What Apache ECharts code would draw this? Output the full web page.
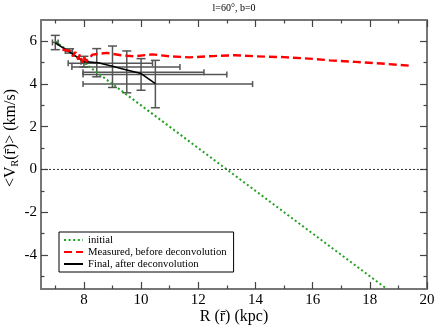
<!DOCTYPE html>
<html><head><meta charset="utf-8">
<script src="https://cdn.jsdelivr.net/npm/echarts@6/dist/echarts.min.js"></script>
<style>html,body{margin:0;padding:0;background:#fff}#c{width:436px;height:326px}</style>
</head><body><div id="c"></div>
<script>
// ---- tick values ----
const xMajorTicks = [8, 10, 12, 14, 16, 18, 20];
const xMinorTicks = [7, 9, 11, 13, 15, 17, 19];
const yMajorTicks = [-4, -2, 0, 2, 4, 6];
const yMinorTicks = [-5, -3, -1, 1, 3, 5];

// ---- series: initial (green dotted) ----
const initialR = [7.0, 18.6];
const initialV = [6.0, -5.6];

// ---- series: measured, before deconvolution (red dashed) ----
const measuredR = [7.25, 7.5, 7.62, 7.7, 7.8, 7.86, 7.95, 8.0, 8.08, 8.3, 8.8, 9.3, 9.75, 10.4, 11.0, 11.7, 12.5, 13.3, 14.0, 15.0, 16.0, 16.6, 17.5, 18.4, 19.5];
const measuredV = [5.62, 5.55, 5.3, 5.5, 5.15, 5.4, 5.0, 5.3, 5.05, 5.38, 5.46, 5.35, 5.3, 5.39, 5.3, 5.25, 5.31, 5.35, 5.3, 5.26, 5.18, 5.11, 5.04, 4.96, 4.85];

// ---- series: final, after deconvolution (black) ----
const finalR = [7.0, 7.5, 8.0, 8.5, 9.0, 9.5, 10.0, 10.5];
const finalV = [5.93, 5.5, 5.05, 5.0, 4.83, 4.66, 4.49, 4.02];

// ---- error bars ----
const errR   = [7.0, 7.5, 8.0, 8.45, 9.0, 9.5, 10.0, 10.5];
const errV   = [5.95, 5.55, 5.05, 4.98, 4.8, 4.55, 4.45, 4.0];
const errRLo = [6.9, 7.35, 7.9, 7.45, 7.58, 7.97, 7.97, 7.97];
const errRHi = [7.1, 7.6, 8.1, 10.4, 11.36, 12.2, 13.0, 13.9];
const errVLo = [5.61, 5.45, 4.8, 4.34, 3.84, 3.59, 3.71, 2.89];
const errVHi = [6.28, 5.65, 5.3, 5.66, 5.78, 5.55, 5.19, 5.11];

const zeroR = [6.5, 20];
const zeroV = [0, 0];

const FONT = 'Liberation Serif';
const zip = (a, b) => a.map((v, i) => [v, b[i]]);
const errData = errR.map((r, i) => [r, errV[i], errRLo[i], errRHi[i], errVLo[i], errVHi[i]]);

function mkAxis(isX, gridIndex, position, tickVals, len, showLabel, showLine) {
  return {
    type: 'value', gridIndex: gridIndex, position: position,
    min: isX ? 6.5 : -5.6, max: isX ? 20 : 7,
    axisLine: {show: showLine, onZero: false, lineStyle: {color: '#777', width: 2}},
    axisTick: {show: true, inside: true, length: len, customValues: tickVals,
      lineStyle: {color: '#444', width: 1.2}},
    axisLabel: {show: showLabel, customValues: tickVals, color: '#000',
      fontFamily: FONT, fontSize: 15, margin: 4},
    splitLine: {show: false}, minorTick: {show: false}, minorSplitLine: {show: false},
    axisPointer: {show: false}
  };
}

const gridBox = {left: 41, right: 9, top: 20, bottom: 37, outerBoundsMode: 'none', containLabel: false};

const chart = echarts.init(document.getElementById('c'), null, {renderer: 'canvas'});
chart.setOption({
  animation: false,
  backgroundColor: '#fff',
  grid: [Object.assign({}, gridBox), Object.assign({}, gridBox)],
  xAxis: [
    mkAxis(true, 0, 'bottom', xMajorTicks, 7, true, true),
    mkAxis(true, 0, 'top', xMajorTicks, 7, false, true),
    mkAxis(true, 1, 'bottom', xMinorTicks, 3.5, false, false),
    mkAxis(true, 1, 'top', xMinorTicks, 3.5, false, false)
  ],
  yAxis: [
    mkAxis(false, 0, 'left', yMajorTicks, 7, true, true),
    mkAxis(false, 0, 'right', yMajorTicks, 7, false, true),
    mkAxis(false, 1, 'left', yMinorTicks, 3.5, false, false),
    mkAxis(false, 1, 'right', yMinorTicks, 3.5, false, false)
  ],
  legend: {
    data: ['initial', 'Measured, before deconvolution', 'Final, after deconvolution'],
    orient: 'vertical', left: 59, top: 232, padding: [2, 7, 2, 4],
    itemGap: 0, itemWidth: 19, itemHeight: 8,
    borderColor: '#000', borderWidth: 1, borderRadius: 0, backgroundColor: '#fff',
    selectedMode: false,
    itemStyle: {opacity: 0, borderWidth: 0},
    textStyle: {fontFamily: FONT, fontSize: 10.7, color: '#000', lineHeight: 12}
  },
  graphic: [
    {type: 'text', x: 234, y: 8, style: {text: 'l=60°, b=0', fontFamily: FONT, fontSize: 10,
      fill: '#000', align: 'center', verticalAlign: 'middle'}},
    {type: 'text', x: 234, y: 317, style: {text: 'R (r\u0304) (kpc)', fontFamily: FONT, fontSize: 16,
      fill: '#000', align: 'center', verticalAlign: 'middle'}},
    {type: 'text', x: 11, y: 138, rotation: Math.PI / 2,
      style: {text: '<V{s|R}(r\u0304)> (km/s)', fontFamily: FONT, fontSize: 16, fill: '#000',
        align: 'center', verticalAlign: 'middle',
        rich: {s: {fontFamily: FONT, fontSize: 10, lineHeight: 10, padding: [8, 0, 0, 0], fill: '#000'}}}}
  ],
  series: [
    {type: 'line', name: 'zero', data: zip(zeroR, zeroV), xAxisIndex: 0, yAxisIndex: 0,
      symbol: 'none', silent: true, lineStyle: {color: '#333', width: 1, type: [2, 2]}},
    {type: 'line', name: 'initial', data: zip(initialR, initialV), xAxisIndex: 0, yAxisIndex: 0,
      symbol: 'none', color: '#22a022', lineStyle: {color: '#22a022', width: 2, type: [2, 2.6]}},
    {type: 'custom', name: 'err', data: errData, xAxisIndex: 0, yAxisIndex: 0, clip: true,
      encode: {x: [0, 2, 3], y: [1, 4, 5]},
      renderItem: function (params, api) {
        const x = api.value(0), y = api.value(1);
        const xl = api.value(2), xh = api.value(3), yl = api.value(4), yh = api.value(5);
        const vLo = api.coord([x, yl]), vHi = api.coord([x, yh]);
        const hLo = api.coord([xl, y]), hHi = api.coord([xh, y]);
        const st = {stroke: '#555', lineWidth: 1.5, fill: null};
        const L = (x1, y1, x2, y2) => ({type: 'line', shape: {x1, y1, x2, y2}, style: st});
        const c = 4.5, ch = 3;
        return {type: 'group', children: [
          L(vLo[0], vLo[1], vHi[0], vHi[1]),
          L(vLo[0] - c, vLo[1], vLo[0] + c, vLo[1]),
          L(vHi[0] - c, vHi[1], vHi[0] + c, vHi[1]),
          L(hLo[0], hLo[1], hHi[0], hHi[1]),
          L(hLo[0], hLo[1] - ch, hLo[0], hLo[1] + ch),
          L(hHi[0], hHi[1] - ch, hHi[0], hHi[1] + ch)
        ]};
      }},
    {type: 'line', name: 'Final, after deconvolution', data: zip(finalR, finalV), xAxisIndex: 0, yAxisIndex: 0,
      symbol: 'none', color: '#000', lineStyle: {color: '#000', width: 1.6}},
    {type: 'line', name: 'Measured, before deconvolution', data: zip(measuredR, measuredV), xAxisIndex: 0, yAxisIndex: 0,
      symbol: 'none', color: '#ff0000', lineStyle: {color: '#ff0000', width: 2.4, type: [8, 4]}}
  ]
});
</script></body></html>
